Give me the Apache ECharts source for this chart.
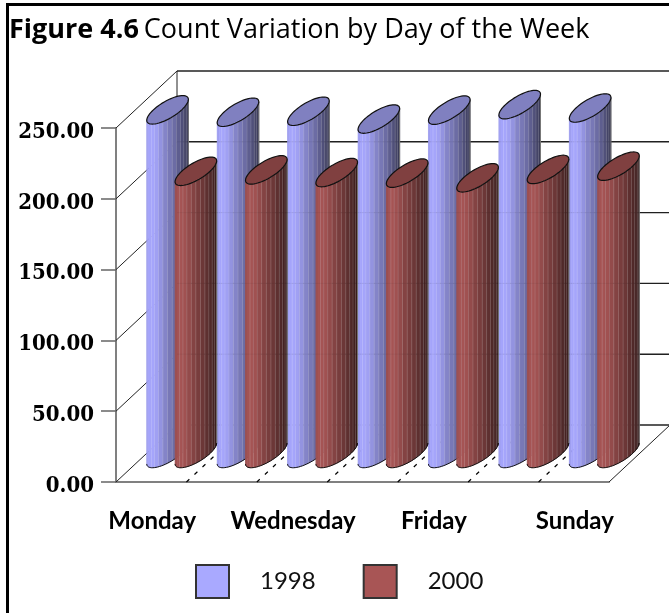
<!DOCTYPE html>
<html><head><meta charset="utf-8">
<style>html,body{margin:0;padding:0;background:#fff}#c{width:669px;height:613px}</style>
<script src="https://cdn.jsdelivr.net/npm/echarts@6/dist/echarts.min.js"></script>
</head><body><div id="c"></div>
<script>
const categories = ['Monday','Tuesday','Wednesday','Thursday','Friday','Saturday','Sunday'];
const values1998 = [242.7, 241, 241.7, 236.2, 242.5, 246.4, 244];
const values2000 = [199.3, 200.3, 198.4, 198, 194.7, 200.6, 202.9];
const yTicks = [0, 50, 100, 150, 200, 250];

const DX = 61, DY = 57, SLOT = 0.402, N = 14;
const BLUE = [168,168,255], RED = [168,85,85];
const TOP_BLUE = '#8080c0', TOP_RED = '#804040';

function shade(c, f){ return 'rgb(' + c.map(v => Math.round(v*f)).join(',') + ')'; }
function ramp(u){
  const p = [[0,.92],[.1,1],[.25,.95],[.45,.78],[.7,.62],[.88,.45],[1,.33]];
  for (let i = 1; i < p.length; i++) if (u <= p[i][0]) {
    const k = (u-p[i-1][0])/(p[i][0]-p[i-1][0]);
    return p[i-1][1] + k*(p[i][1]-p[i-1][1]);
  }
  return .33;
}
function cylinder(side, base, topFill){
  return function(params, api){
    const i = api.value(0), v = api.value(1);
    const b = api.coord([i,0]), t = api.coord([i,v]);
    const a = api.size([1,0])[0]*SLOT/2;
    const hx = DX/4, hy = DY/4;
    const cx = b[0] + side*a + DX/2;
    const yb = b[1] - DY/2, yt = t[1] - DY/2;
    const tm = Math.atan2(hx,a), t0 = tm - Math.PI;
    const px = q => cx + a*Math.cos(q) + hx*Math.sin(q);
    const py = (q,y) => y - hy*Math.sin(q);
    const xmin = px(t0), xmax = px(tm);
    const kids = [];
    for (let k = 0; k < N; k++){
      const q1 = t0 + Math.PI*k/N, q2 = t0 + Math.PI*(k+1)/N;
      const u = ((px(q1)+px(q2))/2 - xmin)/(xmax-xmin);
      kids.push({type:'polygon', shape:{points:[[px(q1),py(q1,yt)],[px(q2),py(q2,yt)],[px(q2),py(q2,yb)],[px(q1),py(q1,yb)]]},
        style:{fill:shade(base,ramp(u)), stroke:shade(base,ramp(u)), lineWidth:.6}});
      if (k > 2 && k < N-1) kids.push({type:'line', shape:{x1:px(q1),y1:py(q1,yt),x2:px(q1),y2:py(q1,yb)},
        style:{stroke:'rgba(255,255,255,0.16)', lineWidth:1}});
    }
    const arc = [], ring = [];
    for (let k = 0; k <= 32; k++){ const q = t0 + Math.PI*k/32; arc.push([px(q),py(q,yb)]); }
    for (let k = 0; k < 64; k++){ const q = Math.PI*2*k/64; ring.push([px(q),py(q,yt)]); }
    kids.push({type:'polyline', shape:{points:arc}, style:{fill:null, stroke:'#111', lineWidth:1}});
    kids.push({type:'line', shape:{x1:xmax,y1:py(tm,yt),x2:xmax,y2:py(tm,yb)}, style:{stroke:'#777', lineWidth:1}});
    kids.push({type:'polygon', shape:{points:ring}, style:{fill:topFill, stroke:'#111', lineWidth:1.2}});
    return {type:'group', children:kids};
  };
}
function wall(params, api){
  const v = api.value(0);
  const L = api.coord([0,v]), band = api.size([1,0])[0];
  const x0 = L[0]-band/2, x1 = x0 + band*categories.length, y = L[1];
  const kids = [
    {type:'line', shape:{x1:x0+DX,y1:y-DY,x2:x1+DX,y2:y-DY}, style:{stroke:'#222', lineWidth:1.4}},
    {type:'line', shape:{x1:x0,y1:y,x2:x0+DX,y2:y-DY}, style:{stroke:'#222', lineWidth:1}}
  ];
  if (v === 0) {
    kids.push({type:'line', shape:{x1:x1,y1:y,x2:x1+DX,y2:y-DY}, style:{stroke:'#222', lineWidth:1}});
    const t = api.coord([0,yTicks[yTicks.length-1]]);
    kids.push({type:'line', shape:{x1:x0+DX,y1:y-DY,x2:x0+DX,y2:t[1]-DY}, style:{stroke:'#222', lineWidth:1}});
  }
  return {type:'group', children:kids};
}
function floorLine(params, api){
  const i = api.value(0), b = api.coord([i,0]), band = api.size([1,0])[0];
  const x = b[0]+band/2;
  return {type:'line', shape:{x1:x,y1:b[1],x2:x+DX,y2:b[1]-DY},
    style:{stroke:'#000', lineWidth:1.2, lineDash:[4,7]}};
}
function ghost(params, api){
  const v = api.value(0), L = api.coord([0,v]), band = api.size([1,0])[0];
  const x0 = L[0]-band/2+DX, x1 = x0 + band*categories.length;
  return {type:'line', shape:{x1:x0,y1:L[1]-DY,x2:x1,y2:L[1]-DY}, style:{stroke:'rgba(0,0,0,0.05)', lineWidth:1}};
}

const chart = echarts.init(document.getElementById('c'), null, {renderer:'canvas'});
chart.setOption({
  animation:false,
  backgroundColor:'#fff',
  title:{left:9, top:17, padding:0, text:'{b|Figure 4.6} {r|Count Variation by Day of the Week}',
    textStyle:{rich:{
      b:{fontFamily:'Open Sans', fontWeight:'bold', fontSize:27, color:'#000'},
      r:{fontFamily:'Open Sans', fontWeight:'normal', fontSize:27, color:'#000'}}}},
  grid:{left:116, top:128, width:493, height:354, containLabel:false},
  legend:{left:195, top:564, padding:0, icon:'rect', itemWidth:33, itemHeight:33, itemGap:47,
    data:['1998','2000'], selectedMode:false,
    textStyle:{fontFamily:'Lato', fontSize:24, color:'#111', padding:[0,0,0,26]}},
  xAxis:{type:'category', data:categories, boundaryGap:true,
    axisLine:{lineStyle:{color:'#808080', width:2}},
    axisTick:{alignWithLabel:true, interval:0, length:14, lineStyle:{color:'#666', width:1.5}},
    axisLabel:{interval:1, margin:27, padding:[0,0,0,2], fontFamily:'Lato', fontWeight:'bold', fontSize:24, color:'#000'},
    splitLine:{show:false}},
  yAxis:{type:'value', min:0, max:250, interval:50,
    axisLine:{show:true, lineStyle:{color:'#808080', width:2}},
    axisTick:{show:true, length:15, lineStyle:{color:'#666', width:1.5}},
    axisLabel:{margin:22, verticalAlign:'top', lineHeight:8, fontFamily:'DejaVu Serif Condensed', fontWeight:'bold', fontSize:22, color:'#000',
      formatter:v=>v.toFixed(2)},
    splitLine:{show:false}},
  series:[
    {type:'custom', name:'walls', z:1, silent:true, clip:false, coordinateSystem:'cartesian2d',
      encode:{y:0}, data:yTicks.map(v=>[v]), renderItem:wall},
    {type:'custom', name:'floor', z:1, silent:true, clip:false,
      data:categories.slice(0,-1).map((c,i)=>[i,0]), renderItem:floorLine},
    {type:'custom', name:'1998', z:3, clip:false, itemStyle:{color:'#a9a9ff', borderColor:'#333', borderWidth:1},
      data:values1998.map((v,i)=>[i,v]), encode:{x:0,y:1}, renderItem:cylinder(-1,BLUE,TOP_BLUE)},
    {type:'custom', name:'2000', z:4, clip:false, itemStyle:{color:'#a85555', borderColor:'#333', borderWidth:1},
      data:values2000.map((v,i)=>[i,v]), encode:{x:0,y:1}, renderItem:cylinder(1,RED,TOP_RED)},
    {type:'custom', name:'ghost', z:5, silent:true, clip:false,
      encode:{y:0}, data:yTicks.slice(1,-1).map(v=>[v]), renderItem:ghost}
  ],
  graphic:[
    {type:'rect', shape:{x:6,y:3,width:663,height:3}, style:{fill:'#000'}, z:10},
    {type:'rect', shape:{x:6,y:3,width:3,height:610}, style:{fill:'#000'}, z:10}
  ]
});
</script></body></html>
